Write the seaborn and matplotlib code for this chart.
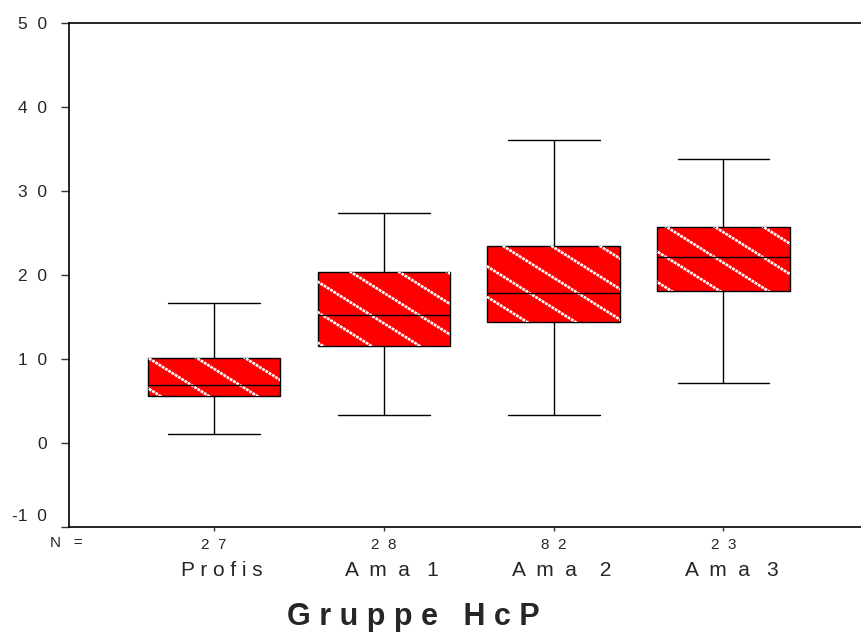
import numpy as np
import pandas as pd
import matplotlib
matplotlib.use("Agg")
import matplotlib.pyplot as plt
import seaborn as sns
from matplotlib.collections import LineCollection
from matplotlib.transforms import IdentityTransform, ScaledTranslation

# ---- data ----
categories = ["Profis", "Ama 1", "Ama 2", "Ama 3"]
category_labels = ["P r o f i s", "A  m  a   1", "A  m  a    2", "A  m  a   3"]
n_counts = [27, 28, 82, 23]
n_labels = ["2  7", "2  8", "8  2", "2  3"]
whisker_low = [1.1, 3.3, 3.3, 7.2]
q1 = [5.6, 11.5, 14.4, 18.1]
median = [6.9, 15.2, 17.9, 22.1]
q3 = [10.1, 20.3, 23.5, 25.7]
whisker_high = [16.7, 27.4, 36.1, 33.8]
y_ticks = [-10, 0, 10, 20, 30, 40, 50]
y_tick_labels = ["-1  0", "0", "1  0", "2  0", "3  0", "4  0", "5  0"]

# five-number summary per group -> seaborn computes exactly these stats
rows = []
for cat, a, b, c, d, e in zip(categories, whisker_low, q1, median, q3, whisker_high):
    for v in (a, b, c, d, e):
        rows.append({"group": cat, "value": v})
df = pd.DataFrame(rows)

sns.set_style("white")
plt.rcParams["font.family"] = ["Liberation Sans", "DejaVu Sans"]

fig = plt.figure(figsize=(8.61, 6.34), dpi=100)
ax = fig.add_axes([69 / 861, 1 - 527 / 634, 1 - 69 / 861, (527 - 23) / 634])

sns.boxplot(data=df, x="group", y="value", order=categories, ax=ax,
            whis=(0, 100), width=0.78, color="#ff0000", saturation=1,
            linecolor="black", linewidth=1.0, fliersize=0,
            medianprops={"color": "black", "linewidth": 1.0})

for cont in ax.containers:
    if hasattr(cont, "caps"):
        for cap in cont.caps:
            xs = cap.get_xdata()
            c = np.mean(xs)
            cap.set_xdata([c - 0.27, c + 0.27])
        # diagonal white dotted stripes inside boxes (SPSS fill pattern)
        for box in cont.boxes:
            segs = []
            for k in range(-40, 60):
                c0 = 827 + k * 30.5
                segs.append([(0, c0), (861, c0 - 0.63 * 861)])
            lc = LineCollection(segs, colors="white", linewidths=1.9,
                                linestyles=[(0, (1.1, 0.35))],
                                transform=IdentityTransform(), zorder=box.get_zorder() + 0.1)
            ax.add_collection(lc, autolim=False)
            lc.set_clip_path(box)
        for b in cont.boxes:
            b.set_edgecolor("black")
            b.set_linewidth(1.0)
            b.set_zorder(2)
        for m in cont.medians:
            m.set_zorder(4)

ax.set_xlim(-0.855, 3.81)
ax.set_ylim(-10, 50)

ax.spines["right"].set_visible(False)
for s in ["left", "top", "bottom"]:
    ax.spines[s].set_color("black")
    ax.spines[s].set_linewidth(1.2)

ax.set_yticks(y_ticks)
ax.set_yticklabels(y_tick_labels)
ax.tick_params(axis="y", direction="out", length=5.8, width=1.0, color="#333333",
               pad=10, labelsize=12.5, left=True)
ax.set_xticks(range(len(categories)))
ax.set_xticklabels(n_labels)
ax.tick_params(axis="x", direction="out", length=3, width=1.0, color="#333333",
               pad=5, labelsize=11, bottom=True)
ax.set_xlabel("")
ax.set_ylabel("")

# raise the -10 label like the reference
lbl = ax.get_yticklabels()[0]
lbl.set_transform(lbl.get_transform() + ScaledTranslation(0, 12 / 100, fig.dpi_scale_trans))

# "N =" row label
fig.text(66 / 861, 1 - 543 / 634, "N   =", ha="center", va="center", fontsize=11)

# category labels row
for i, lab in enumerate(category_labels):
    ax.text(i, 0, lab, transform=ax.get_xaxis_transform() +
            ScaledTranslation(8 / 100, -44 / 100, fig.dpi_scale_trans),
            ha="center", va="center", fontsize=15)

fig.text(413 / 861, 1 - 617 / 634, "G r u p p e   H c P", ha="center", va="center",
         fontsize=22, fontweight="bold")

fig.savefig("out.png", dpi=100)
